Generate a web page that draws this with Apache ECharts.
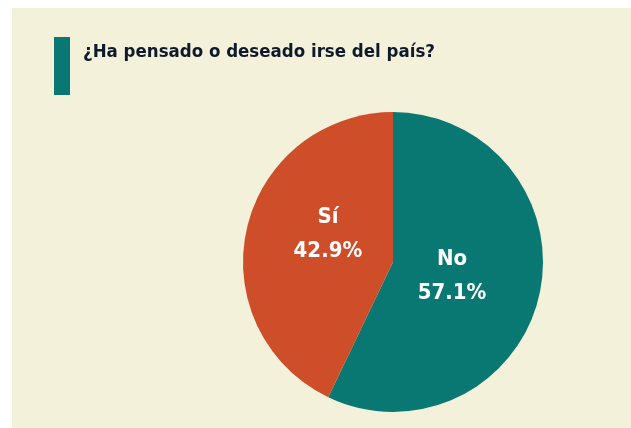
<!DOCTYPE html>
<html>
<head>
<meta charset="utf-8">
<script src="https://cdn.jsdelivr.net/npm/echarts@6/dist/echarts.min.js"></script>
<style>
html,body{margin:0;padding:0;background:#ffffff;width:631px;height:428px;overflow:hidden;}
#c{position:absolute;left:12px;top:8px;width:619px;height:420px;background:#f4f1da;}
</style>
</head>
<body>
<div id="c"></div>
<script>
const titleText = '¿Ha pensado o deseado irse del país?';
const categories = ['No', 'Sí'];
const values = [57.1, 42.9];
const colors = ['#0a7872', '#cd4e29'];
const labelShift = [[-17, -3], [11, -10]];

const FONT = '"DejaVu Sans Condensed", "Liberation Sans Narrow", sans-serif';
const chart = echarts.init(document.getElementById('c'), null, {renderer: 'canvas'});
chart.setOption({
  backgroundColor: '#f4f1da',
  animation: false,
  title: {
    text: titleText,
    left: 71,
    top: 35,
    padding: 0,
    textStyle: {
      fontFamily: FONT,
      fontWeight: 'bold',
      fontSize: 18.5,
      color: '#0e1a2b'
    }
  },
  graphic: [{
    type: 'rect',
    shape: {x: 42, y: 29, width: 16, height: 58},
    style: {fill: '#0a7872'}
  }],
  series: [{
    type: 'pie',
    center: [381, 254],
    radius: [0, 150],
    startAngle: 90,
    clockwise: true,
    silent: true,
    itemStyle: {borderColor: '#f4f1da', borderWidth: 0},
    label: {
      show: true,
      position: 'inside',
      formatter: function (p) { return p.name + '\n' + p.value.toFixed(1) + '%'; },
      color: '#ffffff',
      fontFamily: FONT,
      fontWeight: 'bold',
      fontSize: 22,
      lineHeight: 34
    },
    labelLayout: function (params) {
      const s = labelShift[params.dataIndex];
      return {dx: s[0], dy: s[1]};
    },
    labelLine: {show: false},
    data: categories.map((c, i) => ({
      name: c, value: values[i],
      itemStyle: {color: colors[i]}
    }))
  }]
});
</script>
</body>
</html>
